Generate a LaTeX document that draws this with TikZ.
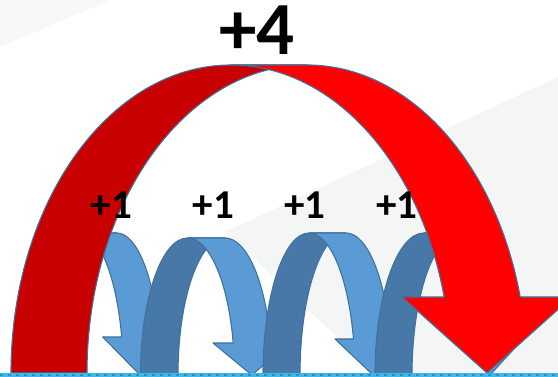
\documentclass[tikz,border=0pt]{standalone}
\usepackage{fontspec}
\setmainfont{Carlito}
\definecolor{outl}{HTML}{41719C}
\definecolor{reddark}{HTML}{C80000}
\definecolor{redlight}{HTML}{FF0000}
\definecolor{bluedark}{HTML}{4878A8}
\definecolor{bluelight}{HTML}{5B9BD5}
\definecolor{bggrey}{HTML}{F4F6F6}
\definecolor{bggreyb}{HTML}{F7F8F8}
\definecolor{stripe}{HTML}{3DB8E8}
\definecolor{stripedark}{HTML}{1E95CF}
% #1 base Y, #2 c1, #3 c2, #4 rx, #5 ry, #6 head height, #7 tip x, #8 head half width, #9 scheme
\newcommand\cdarrow[9]{%
  \pgfmathsetmacro\cdth{asin(#6/#5)}%
  \pgfmathsetmacro\cdex{#4*cos(\cdth)}%
  \draw[shapeline, fill=#9dark] ({#2-#4},#1) arc[start angle=180,end angle=90,x radius=#4pt,y radius=#5pt]
     -- (#3,{#1+#5}) arc[start angle=90,end angle=180,x radius=#4pt,y radius=#5pt] -- cycle;
  \draw[shapeline, fill=#9light] (#7,#1) -- ({#7+#8},{#1+#6}) -- ({#3+\cdex},{#1+#6})
     arc[start angle=\cdth,end angle=90,x radius=#4pt,y radius=#5pt]
     -- (#2,{#1+#5}) arc[start angle=90,end angle=\cdth,x radius=#4pt,y radius=#5pt]
     -- ({#7-#8},{#1+#6}) -- cycle;
}
\begin{document}
\begin{tikzpicture}[x=1pt,y=1pt,
  shapeline/.style={draw=outl, line width=1.1pt, line join=round},
  bigplus/.style={font=\bfseries\fontsize{75}{75}\selectfont, inner sep=0pt, anchor=base},
  smallplus/.style={font=\bfseries\fontsize{41}{41}\selectfont, inner sep=0pt, anchor=base}]
\useasboundingbox (0,0) rectangle (558,377);
\clip (0,0) rectangle (558,377);
\fill[white] (0,0) rectangle (558,377);
\fill[bggrey] (558,300) -- (225,145) -- (380,0) -- (558,0) -- cycle;
\fill[bggreyb] (0,377) -- (0,330) -- (110,377) -- cycle;
% blue arrows
\cdarrow{2}{79.3}{116.8}{44}{142}{38}{140}{37.3}{blue}
\cdarrow{2}{187.5}{225}{47}{137}{32}{251.7}{38.7}{blue}
\cdarrow{2}{309}{346}{46}{142}{36}{373}{38}{blue}
\cdarrow{2}{424}{461}{49}{142}{36}{490}{33}{blue}
% red arrow
\cdarrow{4}{231}{307}{220}{308}{76}{487}{85}{red}
% labels
\node[bigplus] (p4) at (257,322) {+4};
\node[smallplus] (p1a) at (111.5,158) {+1};
\node[smallplus] (p1b) at (213.3,158) {+1};
\node[smallplus] (p1c) at (305,158) {+1};
\node[smallplus] (p1d) at (397,158) {+1};
% bottom stripe
\fill[stripe] (0,0) rectangle (558,4);
\draw[stripedark, line width=1.6pt, dash pattern=on 3pt off 5pt] (0,2) -- (558,2);
\end{tikzpicture}
\end{document}
